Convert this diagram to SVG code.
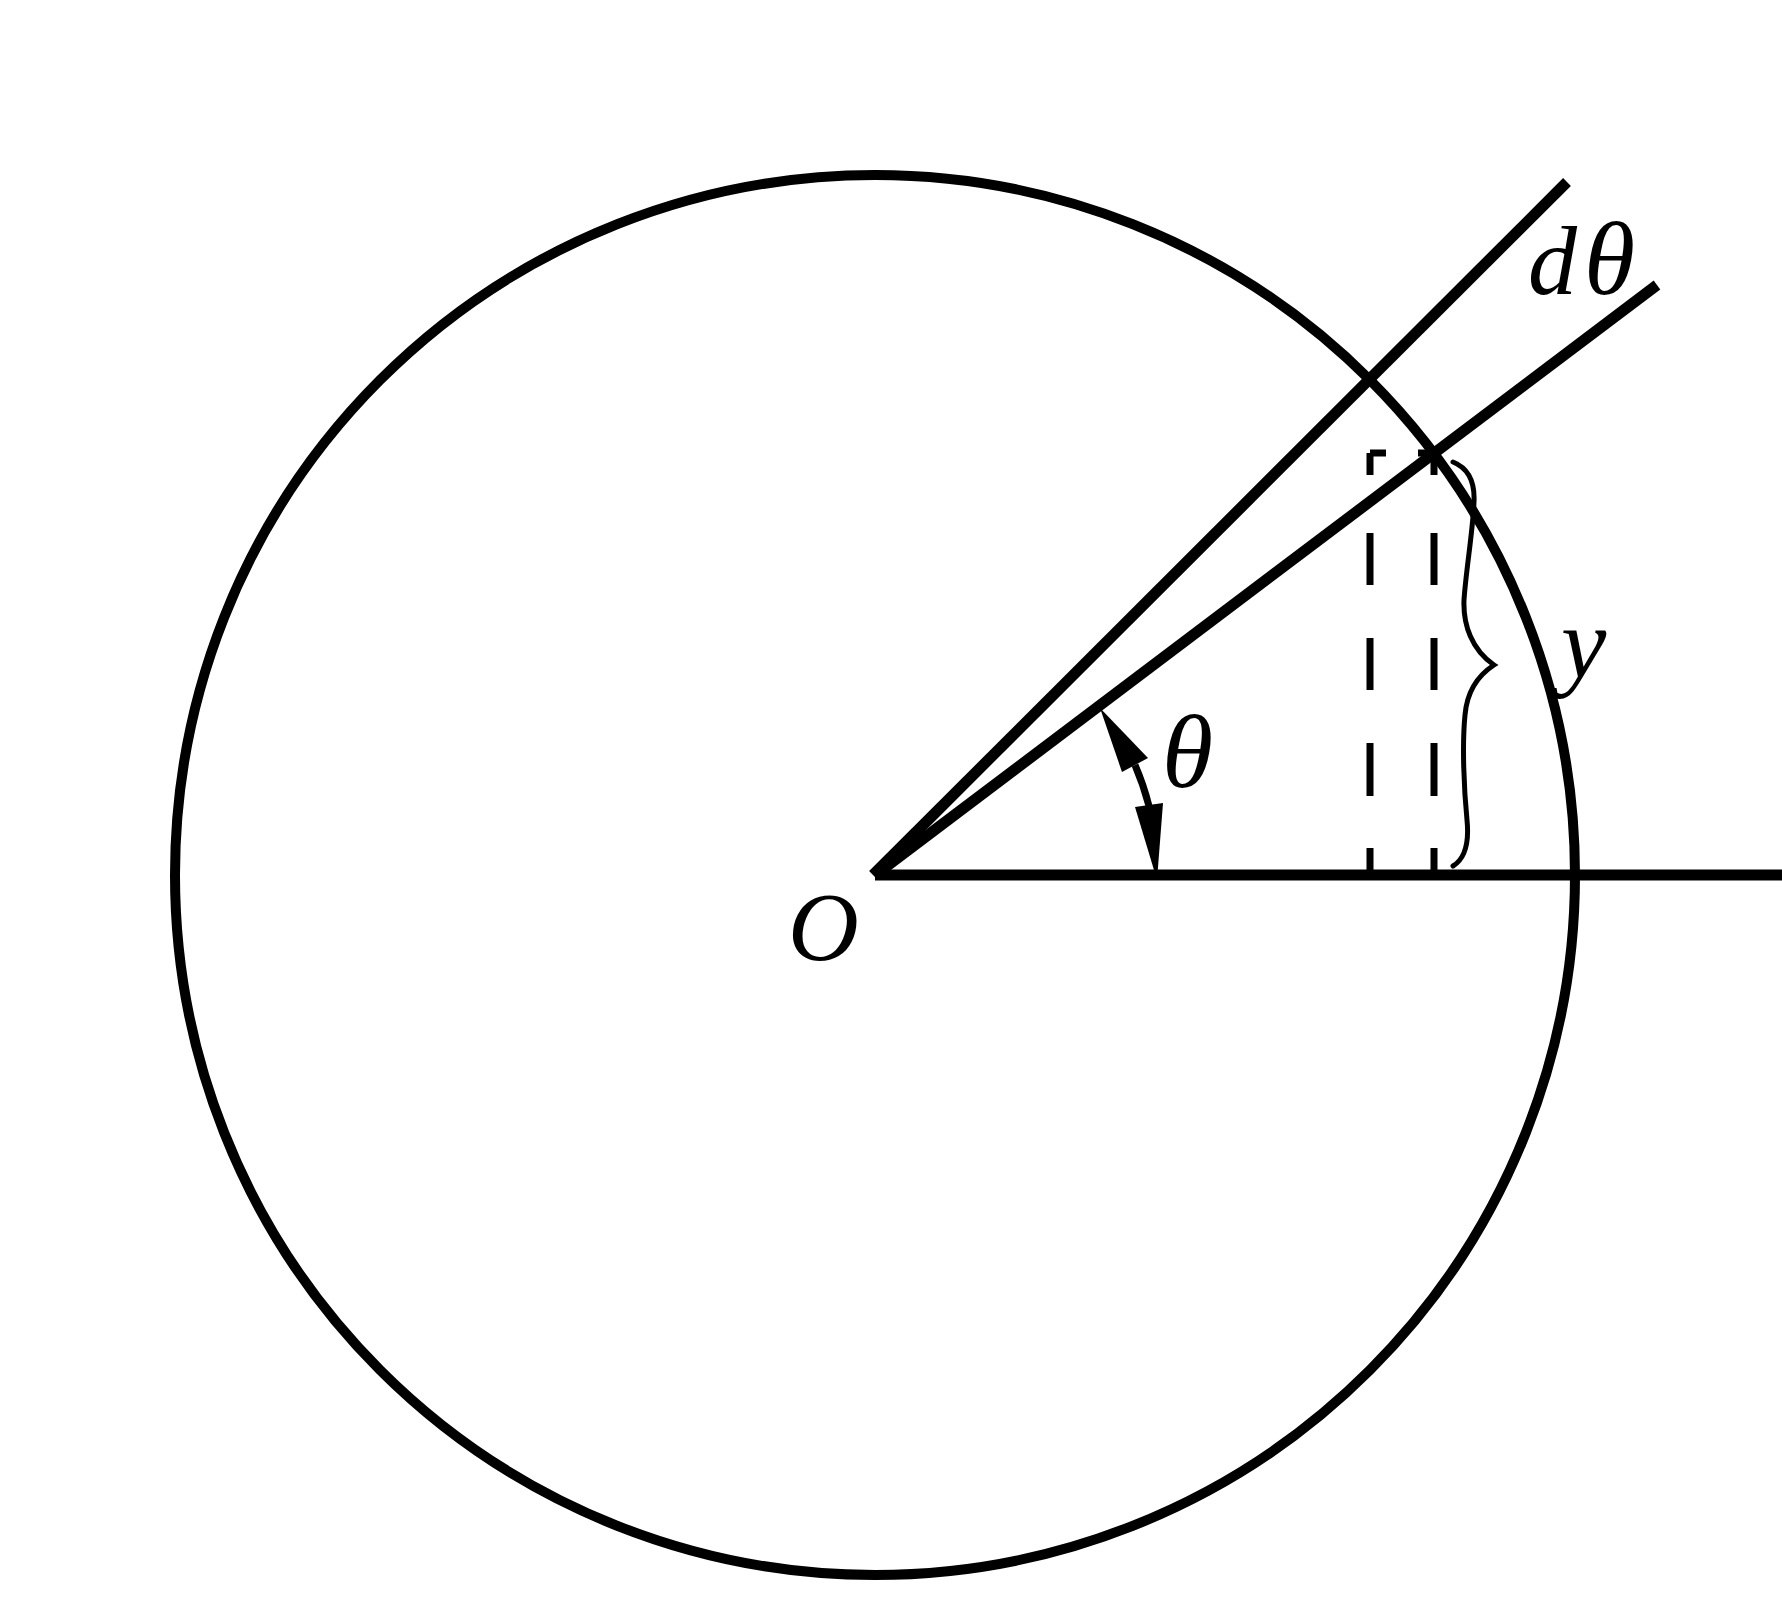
<svg xmlns="http://www.w3.org/2000/svg" width="1782" height="1610" viewBox="0 0 1782 1610">
<style>
.thick{fill:none;stroke:#000;stroke-width:11;}
.dash{fill:none;stroke:#000;stroke-width:7;}
.lbl{font-family:"Liberation Serif","DejaVu Serif",serif;font-style:italic;font-size:98px;fill:#000;}
.th{font-size:104px;}
</style>
<rect width="1782" height="1610" fill="#fff"/>
<g id="circle">
<circle cx="875" cy="875" r="700" fill="none" stroke="#000" stroke-width="10"/>
</g>
<g id="connectors">
<line class="thick" x1="875" y1="875" x2="1782" y2="875"/>
<line class="thick" x1="873" y1="875" x2="1567" y2="182" stroke-linecap="butt"/>
<line class="thick" x1="875" y1="875" x2="1657" y2="285"/>
<path class="dash" d="M1370 453 V475 M1370 533 V585 M1370 638 V690 M1370 743 V796 M1370 848 V875"/>
<path class="dash" d="M1370 453 H1386"/>
<path class="dash" d="M1434 453 V475 M1434 533 V585 M1434 638 V690 M1434 743 V796 M1434 848 V875"/>
<path class="dash" d="M1418 453 H1434"/>
<path d="M1135 765 A281 281 0 0 1 1149 806" fill="none" stroke="#000" stroke-width="7"/>
<polygon points="1100,708 1148,758 1122,772" fill="#000"/>
<polygon points="1157,880 1135,807 1163,803" fill="#000"/>
<path d="M1453 462 C1468 468,1475 482,1474 502 C1473 530,1466 570,1464 600 C1463 625,1472 650,1494 665 C1477 676,1467 692,1465 715 C1462 745,1464 790,1467 820 C1469 840,1466 858,1453 866" fill="none" stroke="#000" stroke-width="5" stroke-linecap="round"/>
</g>
<g id="labels">
<text class="lbl" x="788" y="960">O</text>
<text class="lbl" x="1528" y="294">d<tspan class="th" dx="7">θ</tspan></text>
<text class="lbl th" x="1162" y="787">θ</text>
<text class="lbl" x="1561" y="677" style="font-size:102px">y</text>
</g>
</svg>
